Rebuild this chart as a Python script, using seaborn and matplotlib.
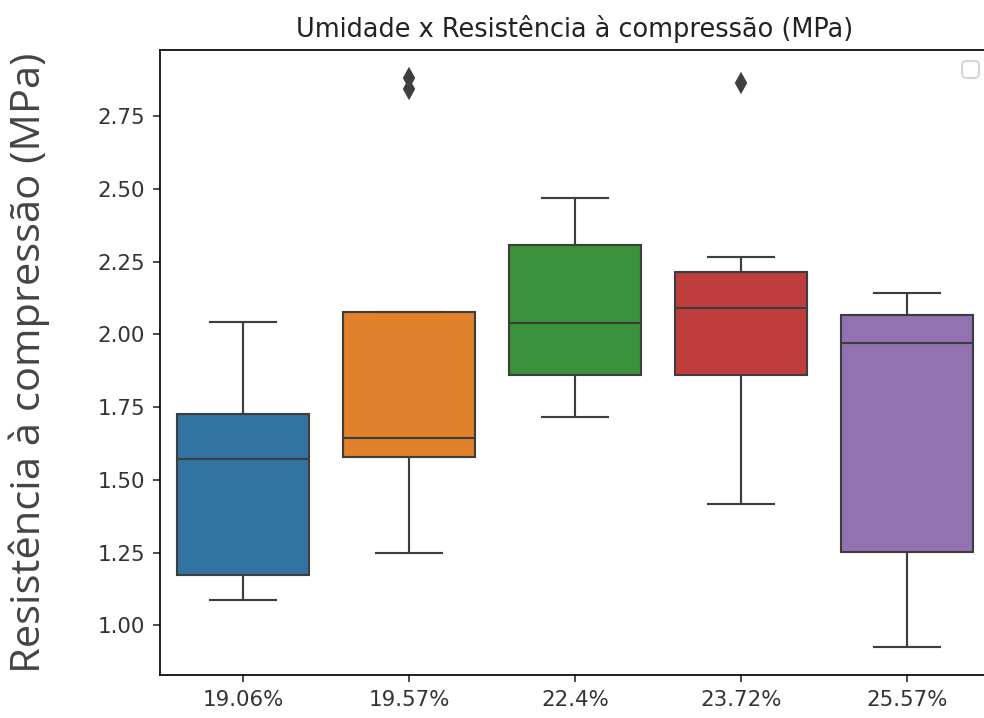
import seaborn as sns
import pandas as pd
import matplotlib.pyplot as plt


# umidade das amostras (categorias do eixo x)
umidades = ['19.06%', '19.57%', '22.4%', '23.72%', '25.57%']

# resistencia a compressao (MPa) de cada grupo
res_1906 = [1.086, 1.12, 1.172, 1.40, 1.573, 1.65, 1.725, 1.88, 2.042]
res_1957 = [1.247, 1.45, 1.580, 1.61, 1.643, 1.90, 2.076, 2.845, 2.880]
res_2240 = [1.717, 1.78, 1.860, 1.95, 2.040, 2.20, 2.307, 2.40, 2.470]
res_2372 = [1.417, 1.70, 1.860, 2.00, 2.092, 2.15, 2.213, 2.265, 2.865]
res_2557 = [0.927, 1.10, 1.251, 1.60, 1.970, 2.02, 2.068, 2.10, 2.143]

grupos = [res_1906, res_1957, res_2240, res_2372, res_2557]
df = pd.DataFrame({
    'Umidade': [u for u, g in zip(umidades, grupos) for _ in g],
    'Resistencia': [v for g in grupos for v in g],
})

fig = plt.figure(figsize=(984 / 153.75, 718 / 153.75), dpi=153.75)
ax = fig.add_axes([160 / 984, 43 / 718, 830 / 984, 625 / 718])
ax.spines['right'].set_visible(False)  # cortado na imagem original

sns.boxplot(data=df, x='Umidade', y='Resistencia', hue='Umidade',
            palette='tab10', legend=False, ax=ax,
            flierprops=dict(marker='d', markerfacecolor='#3f3f3f',
                            markeredgecolor='#3f3f3f'))

ax.set_title('Umidade x Resistência à compressão (MPa)', fontsize=12, color='#222222')
ax.set_xlabel('')
ax.set_ylabel('Resistência à compressão (MPa)', fontsize=19.5,
              family=['Open Sans', 'DejaVu Sans'], color='#444444', labelpad=22)
ax.tick_params(colors='#333333')
ax.legend(loc='upper right')

plt.savefig('out.png', dpi=153.75)
